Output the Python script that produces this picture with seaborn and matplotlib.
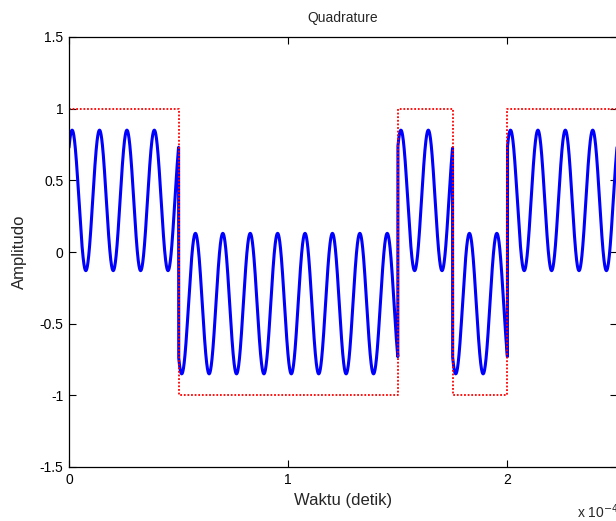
import numpy as np
import pandas as pd
import matplotlib
matplotlib.use('Agg')
import matplotlib.pyplot as plt
from matplotlib.ticker import FuncFormatter
import seaborn as sns

# data bits (one per symbol of 0.25e-4 s)
bits = [1, 1, -1, -1, -1, -1, 1, -1, 1, 1]
bit_time = 0.25e-4
carrier_freq = 80e3      # 2 cycles per bit
carrier_offset = 0.36    # mean level of the wave inside a bit
carrier_amp = 0.49
carrier_phase = -0.715

x_ticks = [0, 1e-4, 2e-4]
y_ticks = [-1.5, -1, -0.5, 0, 0.5, 1, 1.5]

# build the traces
t = np.linspace(0, len(bits) * bit_time, 8001)
idx = np.minimum((t / bit_time).astype(int), len(bits) - 1)
b = np.array(bits)[idx]
wave = b * (carrier_offset + carrier_amp * np.cos(2 * np.pi * carrier_freq * t + carrier_phase))
sig = pd.DataFrame({'t': t, 'y': wave})

sq_t = np.repeat(np.arange(len(bits) + 1) * bit_time, 2)[1:-1]
sq_y = np.repeat(bits, 2)
square = pd.DataFrame({'t': sq_t, 'y': sq_y})

sns.set_style('ticks')
plt.rcParams['font.family'] = ['Liberation Sans', 'DejaVu Sans']
plt.rcParams['font.size'] = 10

fig = plt.figure(figsize=(6.16, 5.21), dpi=100)
ax = fig.add_axes([69 / 616, 54 / 521, 548 / 616, 430 / 521])

sns.lineplot(data=sig, x='t', y='y', ax=ax, color='#0000ff', linewidth=2.2,
             estimator=None, sort=False)
sns.lineplot(data=square, x='t', y='y', ax=ax, color='#ff0000', linewidth=1.3,
             linestyle=(0, (1, 1)), estimator=None, sort=False)

ax.set_xlim(0, 2.5e-4)
ax.set_ylim(-1.5, 1.5)
ax.set_xticks(x_ticks)
ax.set_yticks(y_ticks)
ax.xaxis.set_major_formatter(FuncFormatter(lambda v, p: f'{v * 1e4:g}'))
ax.yaxis.set_major_formatter(FuncFormatter(lambda v, p: f'{v:g}'))
ax.tick_params(direction='in', length=5, width=0.8, top=True, right=True,
               labelsize=10, pad=4, colors='black')
for s in ax.spines.values():
    s.set_linewidth(0.9)
    s.set_color('black')

ax.set_title('Quadrature', fontsize=10, pad=11)
ax.set_xlabel('Waktu (detik)', fontsize=12, labelpad=5)
ax.set_ylabel('Amplitudo', fontsize=12, labelpad=9)
fig.text(577 / 616, 1 - 518 / 521, 'x 10$^{-4}$', fontsize=10, ha='left', va='baseline')

fig.savefig('out.png', dpi=100)
